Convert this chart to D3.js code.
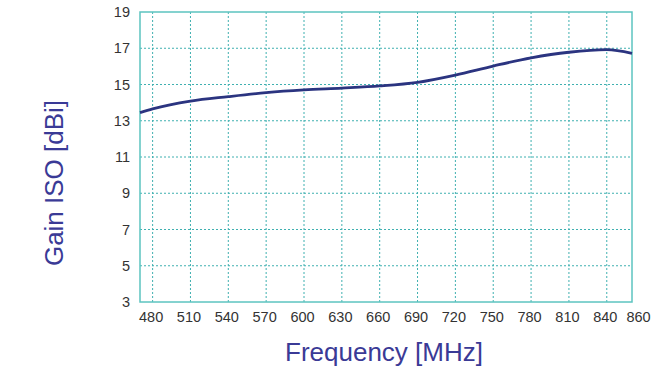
<!DOCTYPE html>
<html>
<head>
<meta charset="utf-8">
<script src="https://cdn.jsdelivr.net/npm/d3@7"></script>
<style>
  body { margin: 0; background: #fff; }
  svg { font-family: "Liberation Sans", Arial, sans-serif; }
</style>
</head>
<body>
<svg class="chart" width="672" height="376"></svg>
<script>
const freq = [470, 480, 510, 540, 570, 600, 630, 660, 690, 720, 750, 780, 810, 840, 860];
const gain = [13.45, 13.65, 14.08, 14.33, 14.55, 14.7, 14.8, 14.92, 15.12, 15.52, 16.02, 16.47, 16.78, 16.92, 16.72];
const xTicks = [480, 510, 540, 570, 600, 630, 660, 690, 720, 750, 780, 810, 840, 860];
const yTicks = [3, 5, 7, 9, 11, 13, 15, 17, 19];

const svg = d3.select("svg.chart");
const margin = { top: 12, right: 40, bottom: 74, left: 140 };
const width = +svg.attr("width") - margin.left - margin.right;
const height = +svg.attr("height") - margin.top - margin.bottom;
const g = svg.append("g").attr("transform", `translate(${margin.left}, ${margin.top})`);

const gridColor = "#3fb0b0";
const x = d3.scaleLinear().domain([470, 860]).range([0, width]);
const y = d3.scaleLinear().domain([3, 19]).range([height, 0]);

// dotted grid
g.append("g")
    .selectAll("line")
    .data(xTicks.filter(d => d < 860))
    .join("line")
    .attr("x1", d => x(d)).attr("x2", d => x(d))
    .attr("y1", 0).attr("y2", height)
    .attr("stroke", gridColor)
    .attr("stroke-width", 1)
    .attr("stroke-dasharray", "2,2");

g.append("g")
    .selectAll("line")
    .data(yTicks.filter(d => d > 3 && d < 19))
    .join("line")
    .attr("x1", 0).attr("x2", width)
    .attr("y1", d => y(d)).attr("y2", d => y(d))
    .attr("stroke", gridColor)
    .attr("stroke-width", 1)
    .attr("stroke-dasharray", "2,2");

g.append("rect")
    .attr("width", width).attr("height", height)
    .attr("fill", "none")
    .attr("stroke", "#5cc4c0")
    .attr("stroke-width", 1.5);

// axes
const xAxis = g.append("g")
    .attr("transform", `translate(0, ${height})`)
    .call(d3.axisBottom(x).tickValues(xTicks).tickSize(0).tickPadding(10));
const yAxis = g.append("g")
    .call(d3.axisLeft(y).tickValues(yTicks).tickSize(0).tickPadding(10));

[xAxis, yAxis].forEach(a => {
    a.select(".domain").remove();
    a.selectAll("text").attr("fill", "#333").style("font-size", "14.5px");
});
// the original sets its labels a touch left, and pushes 860 past the frame
xAxis.selectAll("text").attr("dx", d => d === 860 ? 6 : -2);

// curve
g.append("path")
    .datum(freq.map((f, i) => [f, gain[i]]))
    .attr("fill", "none")
    .attr("stroke", "#2b3480")
    .attr("stroke-width", 2.8)
    .attr("d", d3.line().x(d => x(d[0])).y(d => y(d[1])).curve(d3.curveMonotoneX));

// titles
svg.append("text")
    .attr("x", 384)
    .attr("y", 361)
    .attr("text-anchor", "middle")
    .attr("fill", "#3a3a96")
    .style("font-size", "26px")
    .text("Frequency [MHz]");

svg.append("text")
    .attr("transform", "translate(63, 183) rotate(-90)")
    .attr("text-anchor", "middle")
    .attr("fill", "#3a3a96")
    .style("font-size", "26px")
    .text("Gain ISO [dBi]");
</script>
</body>
</html>
